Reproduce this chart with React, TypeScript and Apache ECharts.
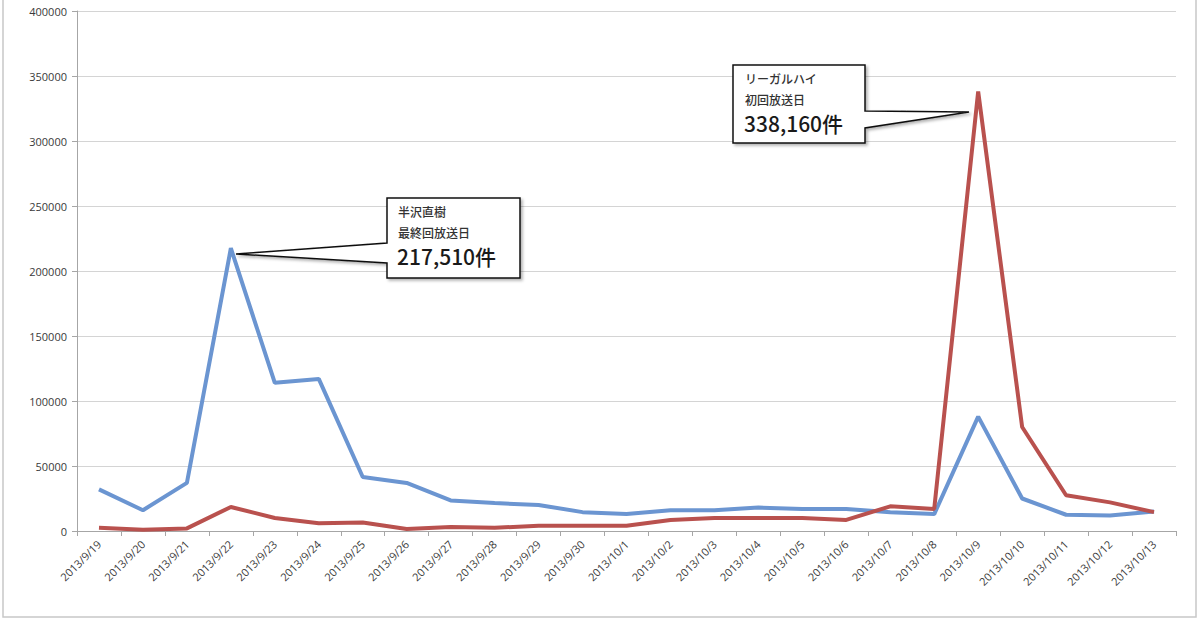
import React, { useEffect, useRef } from "react";
import * as echarts from "echarts";

const categories = [
  "2013/9/19", "2013/9/20", "2013/9/21", "2013/9/22", "2013/9/23", "2013/9/24", "2013/9/25",
  "2013/9/26", "2013/9/27", "2013/9/28", "2013/9/29", "2013/9/30", "2013/10/1", "2013/10/2",
  "2013/10/3", "2013/10/4", "2013/10/5", "2013/10/6", "2013/10/7", "2013/10/8", "2013/10/9",
  "2013/10/10", "2013/10/11", "2013/10/12", "2013/10/13",
];

const hanzawa = [
  32000, 16000, 37000, 217510, 114000, 117000, 41500, 37000, 23500, 21500, 20000, 14500, 13000,
  16000, 16000, 18000, 17000, 17000, 14500, 13000, 88000, 25000, 12500, 12000, 15000,
];

const legalHigh = [
  2500, 1000, 2000, 18500, 10000, 6000, 6500, 1500, 3000, 2500, 4000, 4000, 4000,
  8500, 10000, 10000, 10000, 8500, 19000, 17000, 338160, 80000, 27500, 22000, 14500,
];

const yTicks = { min: 0, max: 400000, interval: 50000 };

const callout1Lines = ["半沢直樹", "最終回放送日", "217,510件"];
const callout2Lines = ["リーガルハイ", "初回放送日", "338,160件"];

const jpFont = "'Noto Sans CJK JP', 'Noto Sans', sans-serif";
const axisFont = "'Open Sans', 'Noto Sans', sans-serif";

export default function App() {
  const ref = useRef<HTMLDivElement>(null);
  useEffect(() => {
    document.body.style.margin = "0";
    if (!ref.current) return;
    const chart = echarts.init(ref.current, undefined, { renderer: "svg" });
    const calloutText = (lines: string[], x: number, y: number) => [
      { type: "text", left: x, top: y, style: { text: lines[0], font: `500 12px ${jpFont}`, fill: "#333" } },
      { type: "text", left: x, top: y + 21, style: { text: lines[1], font: `500 12px ${jpFont}`, fill: "#333" } },
      { type: "text", left: x - 1, top: y + 40, style: { text: lines[2], font: `500 21px ${jpFont}`, fill: "#1a1a1a" } },
    ];
    chart.setOption({
      animation: false,
      backgroundColor: "#ffffff",
      grid: { left: 77, right: 24, top: 11, bottom: 96 },
      xAxis: {
        type: "category",
        data: categories,
        boundaryGap: true,
        axisLine: { lineStyle: { color: "#a6a6a6", width: 1 } },
        axisTick: { show: true, length: 5, lineStyle: { color: "#a6a6a6" } },
        axisLabel: { rotate: 45, fontSize: 11, color: "#3a3a3a", fontFamily: axisFont, interval: 0, margin: 11 },
      },
      yAxis: {
        type: "value",
        min: yTicks.min,
        max: yTicks.max,
        interval: yTicks.interval,
        axisLine: { show: true, lineStyle: { color: "#a6a6a6", width: 1 } },
        axisTick: { show: true, length: 5, lineStyle: { color: "#a6a6a6" } },
        axisLabel: { fontSize: 11, color: "#3a3a3a", fontFamily: axisFont, margin: 10, formatter: (v: number) => String(v) },
        splitLine: { lineStyle: { color: "#d4d4d4", width: 1 } },
      },
      series: [
        {
          name: "半沢直樹",
          type: "line",
          data: hanzawa,
          symbol: "none",
          lineStyle: { color: "#6b95d1", width: 4 },
          z: 3,
        },
        {
          name: "リーガルハイ",
          type: "line",
          data: legalHigh,
          symbol: "none",
          lineStyle: { color: "#b9514e", width: 4 },
          z: 4,
        },
      ],
      graphic: [
        {
          type: "rect",
          shape: { x: 3, y: -2, width: 1193, height: 619 },
          style: { fill: "none", stroke: "#c8c8c8", lineWidth: 1.5 },
          silent: true,
        },
        {
          type: "polygon",
          shape: {
            points: [[387, 198], [520, 198], [520, 278], [387, 278], [387, 263], [236, 254], [387, 243]],
          },
          style: { fill: "#fff", stroke: "#111", lineWidth: 1.5, shadowBlur: 3, shadowOffsetX: 2, shadowOffsetY: 2, shadowColor: "rgba(0,0,0,0.3)" },
          z: 10,
        },
        {
          type: "polygon",
          shape: {
            points: [[733, 65], [865, 65], [865, 111], [969, 112], [865, 128], [865, 143], [733, 143]],
          },
          style: { fill: "#fff", stroke: "#111", lineWidth: 1.5, shadowBlur: 3, shadowOffsetX: 2, shadowOffsetY: 2, shadowColor: "rgba(0,0,0,0.3)" },
          z: 10,
        },
        ...calloutText(callout1Lines, 398, 205).map((t) => ({ ...t, z: 11 })),
        ...calloutText(callout2Lines, 745, 72).map((t) => ({ ...t, z: 11 })),
      ],
    });
    return () => chart.dispose();
  }, []);
  return <div ref={ref} style={{ width: 1200, height: 627 }} />;
}
